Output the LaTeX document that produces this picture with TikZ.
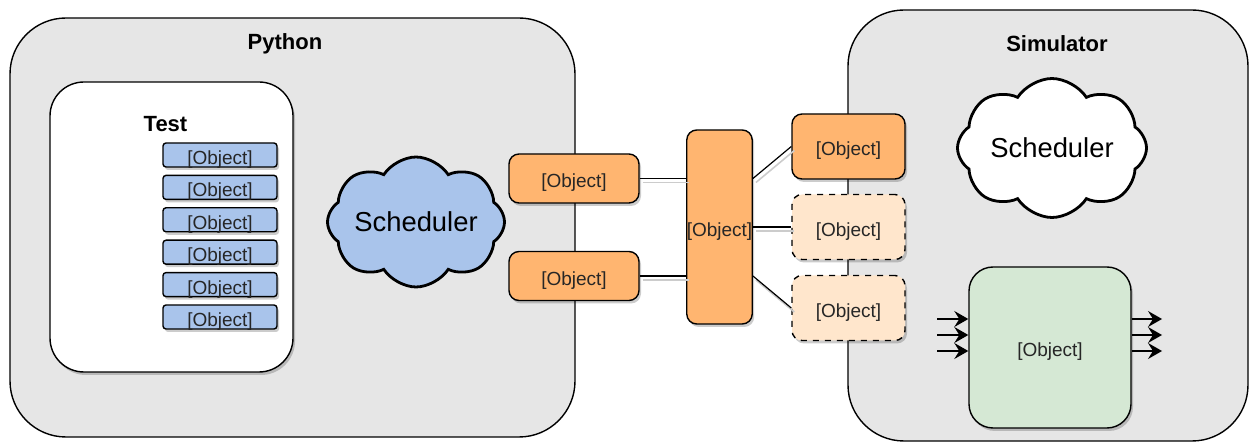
\documentclass[tikz,border=0pt]{standalone}
\usepackage{fontspec}
\setmainfont{Liberation Sans}
\usepackage{xcolor}
\usetikzlibrary{shapes.symbols,shadows,arrows.meta}
\definecolor{panel}{HTML}{E6E6E6}
\definecolor{blueobj}{HTML}{A9C4EB}
\definecolor{orangeobj}{HTML}{FFB570}
\definecolor{orangelight}{HTML}{FFE6CC}
\definecolor{greenobj}{HTML}{D5E8D4}

\begin{document}
\begin{tikzpicture}[x=0.5pt,y=-0.5pt,
every node/.style={inner sep=0pt,font=\fontsize{9.5}{11}\selectfont,text=black!85},
shade/.style={drop shadow={shadow xshift=1pt,shadow yshift=-1.5pt,fill=black,opacity=0.2}},
lowtext/.style={text height=9.5pt,text depth=0pt},
container/.style={draw,line width=0.7pt,fill=panel,rounded corners=28pt},
title/.style={font=\fontsize{11}{13}\selectfont\bfseries,text=black},
testobj/.style={draw,line width=0.7pt,fill=blueobj,rounded corners=1.5pt,minimum width=57pt,minimum height=12pt,lowtext,shade},
obj/.style={draw,line width=0.7pt,fill=orangeobj,rounded corners=5pt,lowtext,shade},
ghostobj/.style={obj,dashed,fill=orangelight},
sched/.style={cloud,cloud puffs=8,cloud puff arc=115,cloud ignores aspect,draw,line width=1.4pt,font=\fontsize{13.7}{16}\selectfont,text=black},
link/.style={line width=0.6pt,preaction={draw,black!20,line width=0.8pt,transform canvas={shift={(1.5pt,-2pt)}}}},
sig/.style={line width=0.7pt,-{Stealth[length=7pt,width=8pt,inset=2.5pt]}}
]
\useasboundingbox (0,0) rectangle (1249,443);
% the two sides
\node[container,minimum width=282.5pt,minimum height=209.5pt] (python) at (292.5,227.5) {};
\node[title] (pytitle) at (285,44) {Python};
\node[container,minimum width=200pt,minimum height=215.5pt] (sim) at (1048,225.5) {};
\node[title] (simtitle) at (1057,44) {Simulator};
% test with its objects
\node[draw,line width=0.7pt,fill=white,rounded corners=17pt,minimum width=121.5pt,minimum height=145pt,shade] (test) at (171.5,227) {};
\node[title] (testtitle) at (165.5,124) {Test};
\foreach \i in {0,...,5}
  \node[testobj] (tobj\i) at (220,155+32.4*\i) {[Object]};
% schedulers
\node[sched,fill=blueobj,minimum width=88.5pt,minimum height=65pt] (pysched) at (416,222) {Scheduler};
\node[sched,fill=white,minimum width=94.5pt,minimum height=69.5pt] (simsched) at (1052,148) {Scheduler};
% objects in between
\node[obj,minimum width=65pt,minimum height=24.5pt] (lobj1) at (574,178.5) {[Object]};
\node[obj,minimum width=65pt,minimum height=24.5pt] (lobj2) at (574,276) {[Object]};
\node[obj,minimum width=32.5pt,minimum height=97pt] (mid) at (719.5,227) {[Object]};
\node[obj,minimum width=56.5pt,minimum height=32.5pt] (robj1) at (848.5,146.5) {[Object]};
\node[ghostobj,minimum width=56.5pt,minimum height=32.5pt] (robj2) at (848.5,227) {[Object]};
\node[ghostobj,minimum width=56.5pt,minimum height=32.5pt] (robj3) at (848.5,308) {[Object]};
\draw[link] (lobj1.east) -- (lobj1.east -| mid.west);
\draw[link] (lobj2.east) -- (lobj2.east -| mid.west);
\draw[link] (lobj1.east -| mid.east) -- (robj1.west);
\draw[link] (mid.east) -- (robj2.west);
\draw[link] (lobj2.east -| mid.east) -- (robj3.west);
% simulator block
\node[draw,line width=0.7pt,fill=greenobj,rounded corners=12pt,minimum width=81pt,minimum height=80.5pt,lowtext,shade] (gbox) at (1050,347.5) {[Object]};
\foreach \y in {319,335,351}{
  \coordinate (in) at (937,\y);
  \coordinate (out) at (1162,\y);
  \draw[sig] (in) -- (in -| gbox.west);
  \draw[sig] (gbox.east |- out) -- (out);
}
\end{tikzpicture}
\end{document}
